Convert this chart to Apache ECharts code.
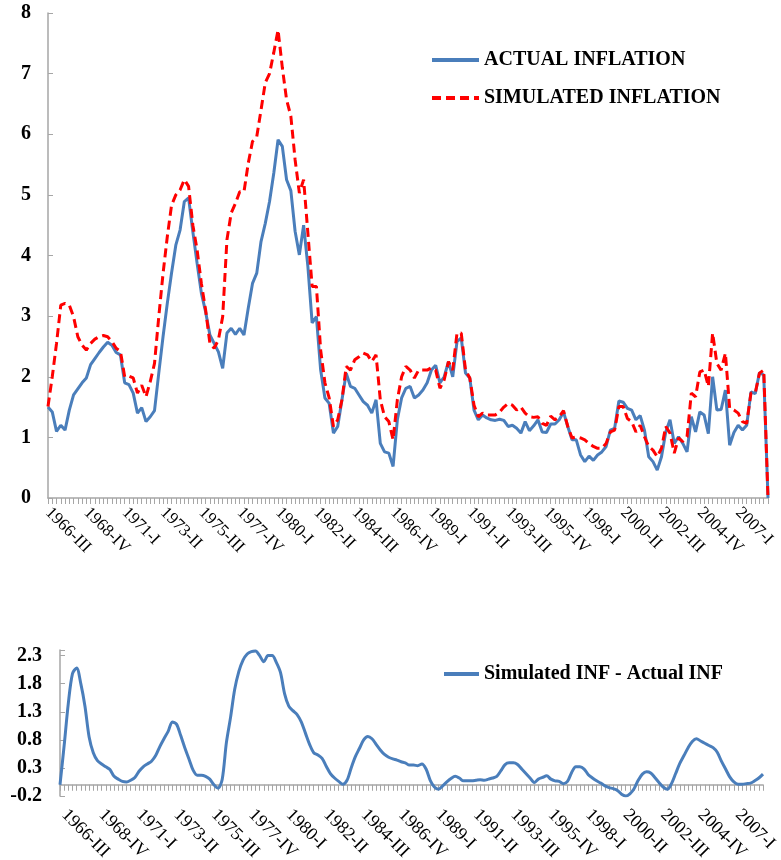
<!DOCTYPE html>
<html>
<head>
<meta charset="utf-8">
<script src="https://cdn.jsdelivr.net/npm/echarts@6/dist/echarts.min.js"></script>
<style>
html,body{margin:0;padding:0;background:#fff;}
#chart{width:781px;height:860px;}
</style>
</head>
<body>
<div id="chart"></div>
<script>
// Quarterly categories 1966-III ... 2008-IV
const quarterNames = ['I', 'II', 'III', 'IV'];
const startYear = 1966;
const startQuarter = 2; // index into quarterNames (III)
const nQuarters = 170;
const categories = [];
for (let k = 0; k < nQuarters; k++) {
  const q = startQuarter + k;
  categories.push((startYear + Math.floor(q / 4)) + '-' + quarterNames[q % 4]);
}

const actualInflation = [
  1.5, 1.42, 1.1, 1.2, 1.12, 1.45, 1.7, 1.8, 1.9, 1.98,
  2.2, 2.3, 2.4, 2.49, 2.57, 2.52, 2.4, 2.36, 1.9, 1.87,
  1.73, 1.4, 1.49, 1.26, 1.34, 1.44, 2.06, 2.66, 3.21, 3.71,
  4.17, 4.42, 4.89, 4.95, 4.39, 3.87, 3.38, 3.07, 2.69, 2.55,
  2.41, 2.14, 2.72, 2.8, 2.7, 2.8, 2.69, 3.13, 3.54, 3.71,
  4.23, 4.53, 4.89, 5.36, 5.91, 5.8, 5.25, 5.07, 4.4, 4.01,
  4.5, 3.82, 2.89, 2.99, 2.11, 1.65, 1.56, 1.07, 1.18, 1.62,
  2.06, 1.84, 1.81, 1.7, 1.59, 1.53, 1.4, 1.62, 0.9, 0.76,
  0.74, 0.52, 1.29, 1.65, 1.81, 1.84, 1.65, 1.7, 1.78, 1.9,
  2.11, 2.19, 1.9, 2.0, 2.25, 2.0, 2.58, 2.64, 2.06, 1.98,
  1.45, 1.29, 1.37, 1.32, 1.29, 1.28, 1.3, 1.28, 1.18, 1.2,
  1.15, 1.07, 1.26, 1.11, 1.19, 1.29, 1.09, 1.08, 1.22, 1.22,
  1.29, 1.42, 1.18, 0.96, 0.96, 0.71, 0.6, 0.69, 0.62, 0.71,
  0.76, 0.85, 1.12, 1.15, 1.6, 1.58, 1.48, 1.45, 1.29, 1.36,
  1.12, 0.68, 0.6, 0.46, 0.68, 1.09, 1.29, 0.9, 1.01, 0.9,
  0.76, 1.34, 1.09, 1.42, 1.37, 1.06, 2.0, 1.45, 1.46, 1.78,
  0.87, 1.08, 1.2, 1.12, 1.2, 1.75, 1.72, 2.07, 2.03, 0
];

const simulatedInflation = [
  1.51, 2.0, 2.55, 3.18, 3.21, 3.18, 2.99, 2.66, 2.52, 2.44,
  2.55, 2.62, 2.66, 2.68, 2.66, 2.58, 2.47, 2.42, 2.0, 2.01,
  1.98, 1.73, 1.86, 1.67, 1.92, 2.22, 2.99, 3.7, 4.31, 4.83,
  5.0, 5.08, 5.25, 5.14, 4.5, 4.09, 3.54, 3.1, 2.55, 2.47,
  2.61, 2.99, 4.26, 4.7, 4.86, 5.05, 5.05, 5.52, 5.88, 5.96,
  6.4, 6.85, 7.0, 7.35, 7.72, 7.1, 6.57, 6.3, 5.58, 5.03,
  5.25, 4.37, 3.49, 3.49, 2.44, 1.9, 1.65, 1.18, 1.29, 1.62,
  2.17, 2.11, 2.28, 2.33, 2.39, 2.36, 2.25, 2.36, 1.62, 1.34,
  1.26, 0.96, 1.62, 2.0, 2.17, 2.11, 1.98, 2.11, 2.11, 2.11,
  2.15, 2.11, 1.81, 1.95, 2.25, 2.11, 2.72, 2.72, 2.11, 1.98,
  1.53, 1.34, 1.4, 1.37, 1.37, 1.37, 1.42, 1.5, 1.56, 1.53,
  1.45, 1.5, 1.4, 1.34, 1.33, 1.34, 1.23, 1.2, 1.35, 1.29,
  1.34, 1.44, 1.18, 0.99, 1.01, 0.99, 0.96, 0.9, 0.85, 0.82,
  0.82, 0.9, 1.09, 1.12, 1.51, 1.51, 1.31, 1.26, 1.09, 1.2,
  1.01, 0.85, 0.79, 0.68, 0.82, 1.18, 1.07, 0.74, 0.99, 0.93,
  1.01, 1.73, 1.67, 2.08, 2.11, 1.84, 2.72, 2.22, 2.11, 2.39,
  1.48, 1.45, 1.4, 1.26, 1.23, 1.73, 1.73, 2.06, 2.11, 0
];

const simMinusActual = [
  0.0, 0.7, 1.45, 1.98, 2.08, 1.8, 1.4, 0.85, 0.57, 0.43,
  0.37, 0.32, 0.27, 0.15, 0.1, 0.06, 0.05, 0.08, 0.13, 0.24,
  0.32, 0.37, 0.42, 0.52, 0.68, 0.82, 0.95, 1.12, 1.08, 0.88,
  0.66, 0.46, 0.26, 0.17, 0.17, 0.15, 0.1, 0.0, -0.06, 0.1,
  0.75, 1.2, 1.7, 2.02, 2.22, 2.33, 2.37, 2.38, 2.3, 2.19,
  2.3, 2.3, 2.18, 2.0, 1.62, 1.4, 1.32, 1.25, 1.12, 0.92,
  0.72, 0.57, 0.53, 0.47, 0.33, 0.2, 0.12, 0.06, 0.01, 0.08,
  0.3, 0.5, 0.65, 0.8, 0.86, 0.82, 0.72, 0.62, 0.54, 0.49,
  0.46, 0.44, 0.41, 0.39, 0.35, 0.35, 0.34, 0.37, 0.28, 0.08,
  -0.04, -0.08, -0.02, 0.05, 0.11, 0.15, 0.12, 0.07, 0.07, 0.07,
  0.08, 0.09, 0.08, 0.1, 0.12, 0.15, 0.25, 0.36, 0.39, 0.39,
  0.36, 0.28, 0.2, 0.12, 0.04, 0.1, 0.13, 0.16, 0.1, 0.07,
  0.06, 0.02, 0.06, 0.22, 0.32, 0.32, 0.28, 0.18, 0.12, 0.07,
  0.03, -0.02, -0.05, -0.07, -0.1, -0.17, -0.2, -0.16, -0.07, 0.08,
  0.19, 0.23, 0.21, 0.13, 0.04, -0.04, -0.08, 0.02, 0.2, 0.38,
  0.52, 0.66, 0.77, 0.82, 0.78, 0.74, 0.7, 0.66, 0.58, 0.42,
  0.28, 0.14, 0.05, 0.01, 0.01, 0.02, 0.03, 0.07, 0.12, 0.19
];

const topYTicks = { min: 0, max: 8, interval: 1 };
const bottomYTicks = { min: -0.2, max: 2.4, interval: 0.5 };

const FONT = '"Liberation Serif", "Times New Roman", serif';
const AXIS_COLOR = '#a6a6a6';
const BLUE = '#4a7ebb';
const RED = '#ff0000';

const chart = echarts.init(document.getElementById('chart'), null, { renderer: 'canvas' });

chart.setOption({
  animation: false,
  backgroundColor: '#fff',
  grid: [
    { left: 48, right: 13, top: 13, height: 485, outerBoundsMode: 'none', containLabel: false },
    { left: 60, right: 18, top: 650, height: 146, outerBoundsMode: 'none', containLabel: false }
  ],
  legend: [
    {
      orient: 'vertical',
      left: 430,
      top: 50,
      padding: 0,
      itemGap: 18,
      itemWidth: 47,
      itemHeight: 14,
      itemStyle: { opacity: 0 },
      lineStyle: { width: 4 },
      textStyle: { fontFamily: FONT, fontSize: 20, fontWeight: 'bold', color: '#000' },
      data: ['ACTUAL INFLATION', 'SIMULATED INFLATION']
    },
    {
      orient: 'vertical',
      left: 442,
      top: 664,
      padding: 0,
      itemWidth: 35,
      itemHeight: 14,
      itemStyle: { opacity: 0 },
      lineStyle: { width: 4 },
      textStyle: { fontFamily: FONT, fontSize: 20, fontWeight: 'bold', color: '#000' },
      data: ['Simulated INF - Actual INF']
    }
  ],
  xAxis: [
    {
      type: 'category', gridIndex: 0, data: categories, boundaryGap: false,
      axisLine: { lineStyle: { color: AXIS_COLOR, width: 1.5 } },
      axisTick: { interval: 0, length: 6, lineStyle: { color: AXIS_COLOR } },
      axisLabel: { interval: 8, rotate: -45, fontFamily: FONT, fontSize: 17, color: '#000', margin: 12 },
      splitLine: { show: false }
    },
    {
      type: 'category', gridIndex: 1, data: categories, boundaryGap: false,
      axisLine: { onZero: true, lineStyle: { color: AXIS_COLOR, width: 1.5 } },
      axisTick: { interval: 0, length: 6, lineStyle: { color: AXIS_COLOR } },
      axisLabel: { show: false },
      splitLine: { show: false }
    },
    {
      type: 'category', gridIndex: 1, data: categories, boundaryGap: false, position: 'bottom',
      axisLine: { show: false, onZero: false },
      axisTick: { show: false },
      axisLabel: { interval: 8, rotate: -45, fontFamily: FONT, fontSize: 18, color: '#000', margin: 12, padding: [0, 0, 0, 6] },
      splitLine: { show: false }
    }
  ],
  yAxis: [
    {
      type: 'value', gridIndex: 0,
      min: topYTicks.min, max: topYTicks.max, interval: topYTicks.interval,
      axisLine: { show: true, lineStyle: { color: AXIS_COLOR, width: 1.5 } },
      axisTick: { show: true, inside: true, length: 5, lineStyle: { color: AXIS_COLOR } },
      axisLabel: { fontFamily: FONT, fontSize: 20, fontWeight: 'bold', color: '#000', margin: 17 },
      splitLine: { show: false }
    },
    {
      type: 'value', gridIndex: 1,
      min: bottomYTicks.min, max: bottomYTicks.max, interval: bottomYTicks.interval,
      axisLine: { show: true, lineStyle: { color: AXIS_COLOR, width: 1.5 } },
      axisTick: { show: true, inside: true, length: 5, lineStyle: { color: AXIS_COLOR } },
      axisLabel: {
        fontFamily: FONT, fontSize: 20, fontWeight: 'bold', color: '#000', margin: 18,
        formatter: v => (v > 2.35 ? '' : v.toFixed(1))
      },
      splitLine: { show: false }
    }
  ],
  series: [
    {
      name: 'ACTUAL INFLATION', type: 'line', xAxisIndex: 0, yAxisIndex: 0,
      data: actualInflation, symbol: 'none', smooth: false,
      lineStyle: { color: BLUE, width: 3 }, itemStyle: { color: BLUE }, z: 2
    },
    {
      name: 'SIMULATED INFLATION', type: 'line', xAxisIndex: 0, yAxisIndex: 0,
      data: simulatedInflation, symbol: 'none', smooth: false,
      lineStyle: { color: RED, width: 3, type: [9, 5] }, itemStyle: { color: RED }, z: 3
    },
    {
      name: 'Simulated INF - Actual INF', type: 'line', xAxisIndex: 1, yAxisIndex: 1,
      data: simMinusActual, symbol: 'none', smooth: 0.3,
      lineStyle: { color: BLUE, width: 3 }, itemStyle: { color: BLUE }
    }
  ]
});
</script>
</body>
</html>
